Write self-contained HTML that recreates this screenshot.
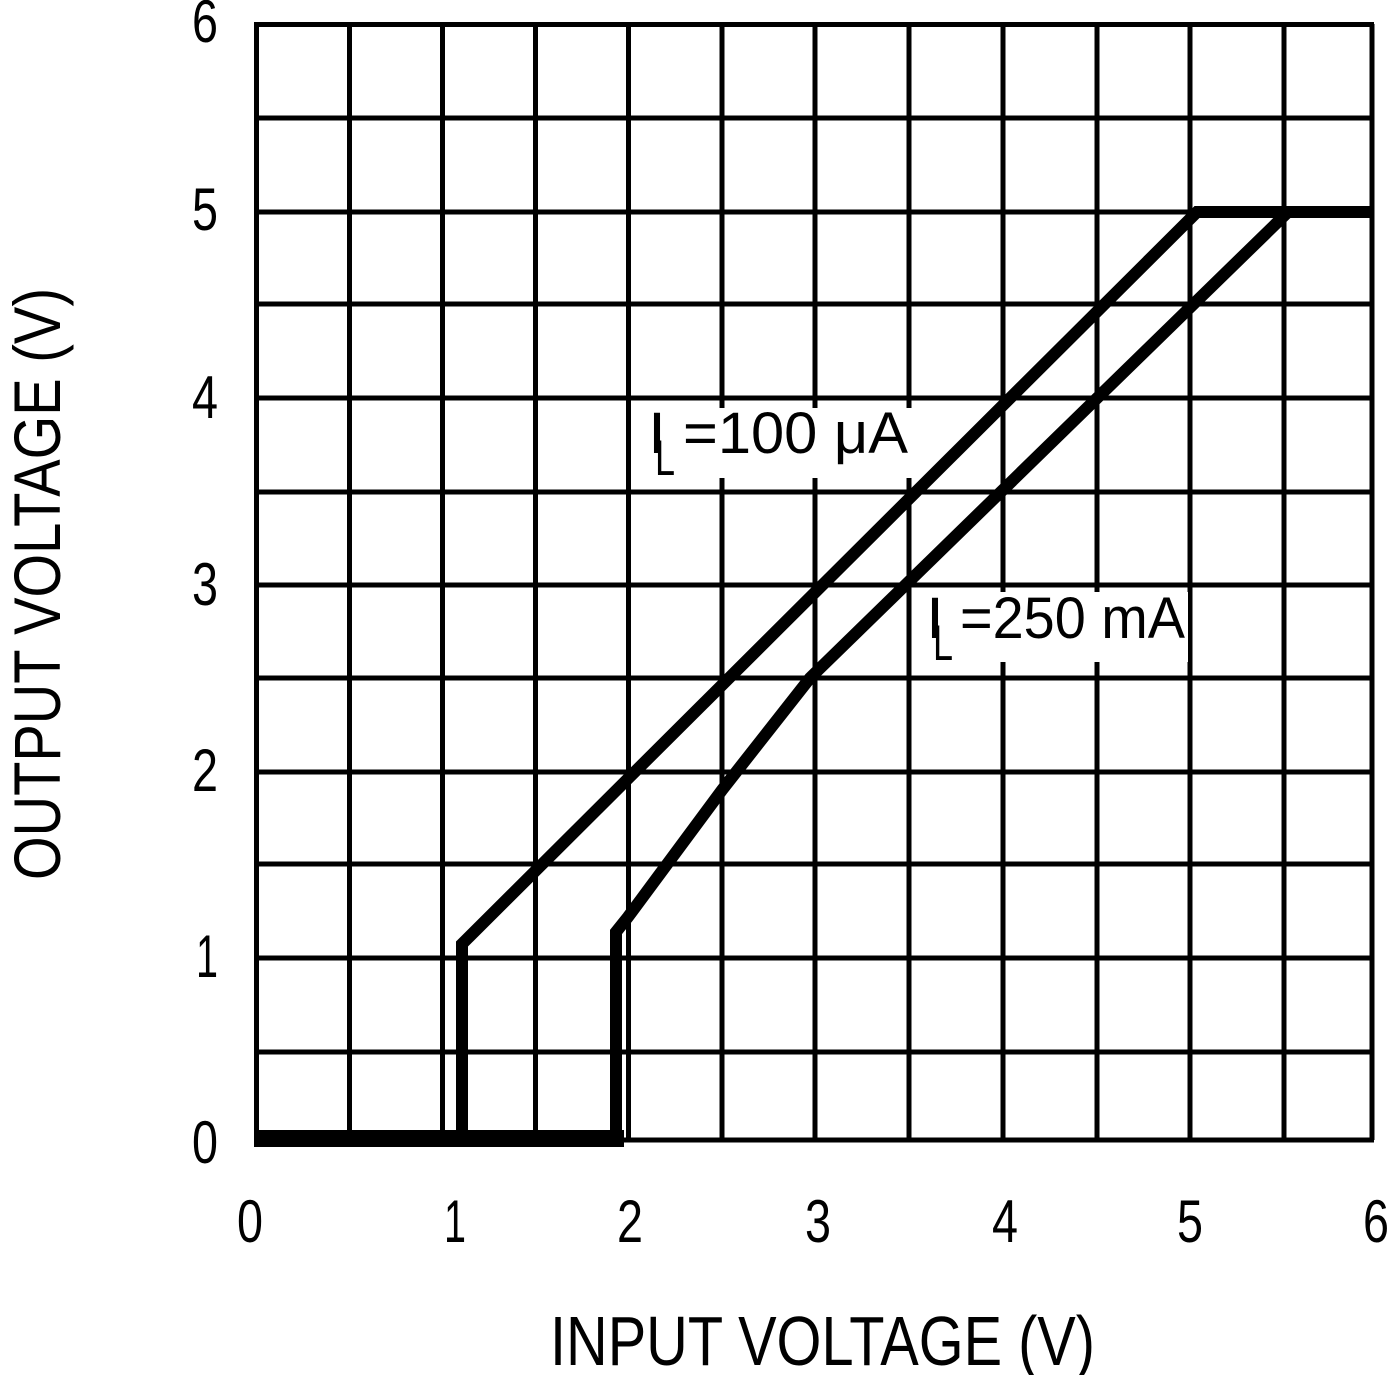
<!DOCTYPE html>
<html><head><style>html,body{margin:0;padding:0;background:#fff}svg{display:block}</style></head>
<body>
<svg width="1390" height="1375" viewBox="0 0 1390 1375" xmlns="http://www.w3.org/2000/svg">
<rect width="1390" height="1375" fill="#fff"/>
<g stroke="#000" stroke-width="5" fill="none">
<path d="M256.5 24V1140M349.5 24V1140M442.5 24V1140M535.5 24V1140M628.5 24V1140M722 24V1140M815 24V1140M909 24V1140M1003 24V1140M1097 24V1140M1190 24V1140M1284 24V1140M1372 24V1140"/>
<path d="M254 24.5H1374M254 118H1374M254 212H1374M254 304H1374M254 398H1374M254 492H1374M254 585H1374M254 678H1374M254 772H1374M254 864H1374M254 958H1374M254 1052H1374M254 1140H1374"/>
</g>
<g fill="#fff">
<rect x="640" y="408" width="272" height="70"/>
<rect x="920" y="592" width="268" height="70"/>
</g>
<g stroke="#000" stroke-width="12" fill="none" stroke-linejoin="miter">
<path d="M256 1138H462V944L1197 212H1374"/>
<path d="M462 1138H616V932L628 917L722 790L810 678L1288 212"/>
</g>
<rect x="254" y="1130" width="370" height="17" fill="#000"/>
<g font-family="Liberation Sans, sans-serif" font-size="60" fill="#000" text-anchor="middle">
<text x="250" y="1242" textLength="26" lengthAdjust="spacingAndGlyphs">0</text>
<text x="455" y="1242" textLength="22" lengthAdjust="spacingAndGlyphs">1</text>
<text x="630" y="1242" textLength="26" lengthAdjust="spacingAndGlyphs">2</text>
<text x="818" y="1242" textLength="26" lengthAdjust="spacingAndGlyphs">3</text>
<text x="1005" y="1242" textLength="26" lengthAdjust="spacingAndGlyphs">4</text>
<text x="1190" y="1242" textLength="26" lengthAdjust="spacingAndGlyphs">5</text>
<text x="1376" y="1242" textLength="26" lengthAdjust="spacingAndGlyphs">6</text>
<text x="205" y="42" textLength="26" lengthAdjust="spacingAndGlyphs">6</text>
<text x="205" y="230" textLength="26" lengthAdjust="spacingAndGlyphs">5</text>
<text x="205" y="418" textLength="26" lengthAdjust="spacingAndGlyphs">4</text>
<text x="205" y="605" textLength="26" lengthAdjust="spacingAndGlyphs">3</text>
<text x="205" y="791" textLength="26" lengthAdjust="spacingAndGlyphs">2</text>
<text x="207" y="977" textLength="22" lengthAdjust="spacingAndGlyphs">1</text>
<text x="205" y="1163" textLength="26" lengthAdjust="spacingAndGlyphs">0</text>
</g>
<g font-family="Liberation Sans, sans-serif" fill="#000">
<text x="550" y="1365" font-size="70" textLength="545" lengthAdjust="spacingAndGlyphs">INPUT VOLTAGE (V)</text>
<text transform="translate(60,880) rotate(-90)" font-size="66" textLength="592" lengthAdjust="spacingAndGlyphs">OUTPUT VOLTAGE (V)</text>
<text x="648" y="453" font-size="58" textLength="18" lengthAdjust="spacingAndGlyphs">I</text>
<text x="655" y="475" font-size="50" textLength="20" lengthAdjust="spacingAndGlyphs">L</text>
<text x="683" y="453" font-size="58" textLength="225" lengthAdjust="spacingAndGlyphs">=100 μA</text>
<text x="926" y="638" font-size="58" textLength="18" lengthAdjust="spacingAndGlyphs">I</text>
<text x="933" y="660" font-size="50" textLength="20" lengthAdjust="spacingAndGlyphs">L</text>
<text x="960" y="638" font-size="58" textLength="225" lengthAdjust="spacingAndGlyphs">=250 mA</text>
</g>
</svg>
</body></html>
